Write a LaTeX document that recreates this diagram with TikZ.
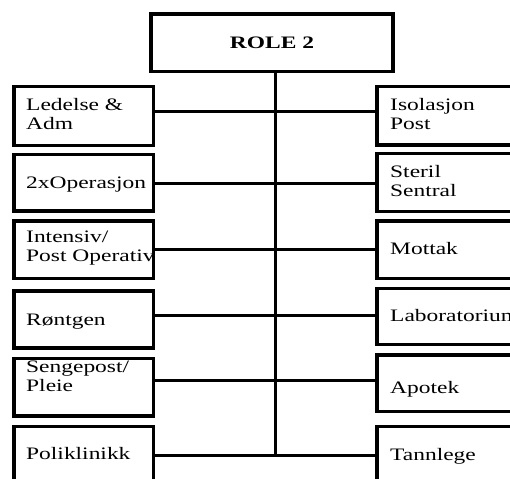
\documentclass[tikz,border=0pt]{standalone}
\usepackage{fontspec}
\setmainfont{Liberation Serif}[FakeStretch=1.34]
\usepackage{tikz}
\usetikzlibrary{positioning,calc}
\tikzset{
  boxnode/.style={draw=black,line width=3.5pt,anchor=north west,outer sep=0pt,
    inner sep=0pt,minimum width=139.5pt,minimum height=57.5pt},
  toptext/.style={font=\fontsize{17.5}{18.5}\selectfont\bfseries},
  lbl/.style={anchor=west,align=left,inner sep=0pt,
    font=\fontsize{17.5}{18.5}\selectfont},
  conn/.style={line width=3pt,black},
}
\begin{document}
\begin{tikzpicture}[x=1pt,y=-1pt]
  \useasboundingbox (0,0) rectangle (510,478);
  \clip (0,0) rectangle (510,478);
  % labels first, so the borders lie over them
  \node[lbl] (ledelseT) at (26,114) {Ledelse \&\\Adm};
  \node[lbl] (operasjonT) at (26,184.2) {2xOperasjon};
  \node[lbl] (intensivT) at (26,248) {Intensiv/\\Post Operativ};
  \node[lbl] (rontgenT) at (26,321.9) {Røntgen};
  \node[lbl] (sengepostT) at (26,376.3) {Sengepost/\\Pleie};
  \node[lbl] (poliklinikkT) at (26,454) {Poliklinikk};
  \node[lbl] (isolasjonT) at (390,114.2) {Isolasjon\\Post};
  \node[lbl] (sterilT) at (390,181.2) {Steril\\Sentral};
  \node[lbl] (mottakT) at (390,249) {Mottak};
  \node[lbl] (labT) at (390,315.7) {Laboratorium};
  \node[lbl] (apotekT) at (390,389.2) {Apotek};
  \node[lbl] (tannlegeT) at (390,455.9) {Tannlege};
  % boxes
  \node[boxnode,minimum width=242pt,toptext] (role) at (151,14) {ROLE 2};
  \node[boxnode,minimum height=58.8pt] (ledelse) at (14,86.5) {};
  \node[boxnode,minimum height=56.5pt] (operasjon) at (14,154.5) {};
  \node[boxnode] (intensiv) at (14,221) {};
  \node[boxnode,minimum height=57pt] (rontgen) at (14,291) {};
  \node[boxnode] (sengepost) at (14,358.3) {};
  \node[boxnode] (poliklinikk) at (14,426.7) {};
  \node[boxnode,minimum height=58.5pt] (isolasjon) at (377,86.5) {};
  \node[boxnode,minimum height=58.2pt] (steril) at (377,153.3) {};
  \node[boxnode] (mottak) at (377,221) {};
  \node[boxnode,minimum height=56pt] (lab) at (377,288.7) {};
  \node[boxnode,minimum height=56.7pt] (apotek) at (377,355) {};
  \node[boxnode] (tannlege) at (377,426.7) {};
  % junctions on the trunk
  \coordinate (j1) at (275,112);
  \coordinate (j2) at (275,183.5);
  \coordinate (j3) at (275,249);
  \coordinate (j4) at (275,315.5);
  \coordinate (j5) at (275,380);
  \coordinate (j6) at (275,455.7);
  \draw[conn] (j1 |- role.south) -- (j6);
  \draw[conn] (j1 -| ledelse.east) -- (j1 -| isolasjon.west);
  \draw[conn] (j2 -| operasjon.east) -- (j2 -| steril.west);
  \draw[conn] (j3 -| intensiv.east) -- (j3 -| mottak.west);
  \draw[conn] (j4 -| rontgen.east) -- (j4 -| lab.west);
  \draw[conn] (j5 -| sengepost.east) -- (j5 -| apotek.west);
  \draw[conn] (j6 -| poliklinikk.east) -- (j6 -| tannlege.west);
\end{tikzpicture}
\end{document}
